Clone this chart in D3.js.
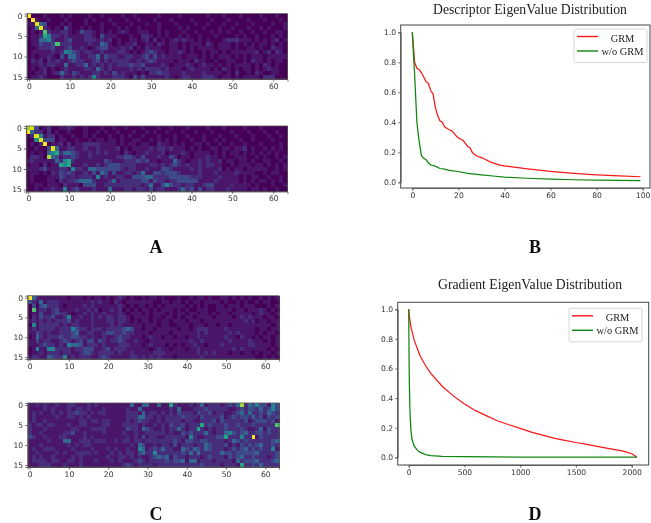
<!DOCTYPE html>
<html>
<head>
<meta charset="utf-8">
<script src="https://cdn.jsdelivr.net/npm/d3@7"></script>
<style>
  html, body { margin: 0; padding: 0; background: #fff; }
  svg { display: block; }
  .tick text { font-family: "DejaVu Sans", sans-serif; font-size: 7.6px; fill: #333; }
  .tick line { stroke: #333; stroke-width: 0.7; }
  .domain { stroke: #555; stroke-width: 0.8; }
  .serif { font-family: "Liberation Serif", serif; fill: #222; }
</style>
</head>
<body>
<div id="chart"></div>
<script>
// Heatmaps: one string per row, each character is a level from 0 to a (10)
const heatA1 = [
  "a000100010 1000010010 0001001000 0010000100 0000100010 0010000100 0100",
  "0a10010001 0000101000 1000100100 0100010000 1000010001 0000100010 0010",
  "1194300010 1000100010 0100010001 0010001000 0100100010 0100010000 1001",
  "0149210103 1001010010 0010100100 0010000101 0001000100 1000100101 0001",
  "0101721122 1013221010 1012100111 0010100010 0100010101 0010010010 0110",
  "0112652212 1111221031 1100010022 1010100101 0010001000 0101001000 1010",
  "0114452112 3111222121 2010011012 0201012121 1010100012 2211101010 1201",
  "0113223722 2111121143 1010112001 1021011010 1110210111 0101010110 1010",
  "0012223112 3112101233 1112120102 1110011010 1011110111 0100110100 2110",
  "0111112125 4321221121 1122101012 3211011210 1001011010 1111112012 0210",
  "0101121031 4421122413 2211221123 1312111101 1101010111 0101011101 1111",
  "0212021211 2322112312 1222211212 3211110111 0211001001 1001021101 0110",
  "0112122114 1122412121 2122232231 1112101112 1012110101 0111101021 0100",
  "0101201012 1111221421 2111121212 2221211101 2111101021 0101101012 1100",
  "0011201242 1321112212 1312111010 2232211121 1112111101 0200102100 1100",
  "0112100021 1212125211 1222103131 1111210122 1112221011 0101111022 2000"
];
const heatA2 = [
  "8930120011 2100100010 0100100010 0010010001 0000100010 0001000100 0000",
  "a422020100 1000100101 0010001001 0100100010 0100010000 1000100010 0100",
  "0295122010 0100101000 1001010010 0010001001 0001000100 0100010001 0010",
  "0059333011 0010010110 1101001100 1010101000 1001001010 0010010000 1000",
  "0102a01120 2011222211 1101011011 0021101010 0110100100 1001000100 0010",
  "0010039411 2211211211 1120101111 2122121110 1010011011 0112010010 1010",
  "0101045624 4321121212 1110210112 1112011121 0111101010 1101010101 0100",
  "0221084312 2321121111 1122332131 1121132011 0111211010 0111001010 0101",
  "1211111425 6211111113 2111222323 1101114210 1121211201 1011010011 0010",
  "0110201165 6111211212 3332222111 2212123212 1121221100 1011101101 0101",
  "1112311122 1522144333 3332122112 1113321111 2121111201 0110111110 0101",
  "0110102132 3211213143 1311221241 1332333211 1121112111 1211110010 1100",
  "0100011132 1212221512 1122113334 4222233333 2221111211 1101011001 0010",
  "0100011021 2234442111 2412222233 1322122333 3311112111 1101010110 1010",
  "0011011102 1110333112 2222222212 4113532212 2112331111 2111101000 1001",
  "0010112115 1231112111 4111221221 3122111242 3131221112 1111011010 0100"
];
const heatC1 = [
  "a421111111 0111010110 1012101001 0110100010 0101101001 1010101001 0101",
  "3214122211 1111112121 1021011111 1100110110 1011011110 1001010010 1100",
  "0303422210 1111212111 1112101011 0101011111 0101010011 0111011100 0101",
  "0712212311 1121121201 1212010101 1010111010 1001110011 1101101112 1010",
  "0113112322 1011212112 1112101110 1011101011 0110110101 1011111012 1101",
  "0213223112 5112112121 2212210111 1011011010 1101111011 1101212111 0110",
  "1212121222 3121112111 2212210101 1010110111 0111011111 1111121201 1011",
  "0512222212 1221112111 1212111110 1110110011 1011101101 1011111111 1101",
  "1212222122 2532212221 2222343110 1101111101 1012221111 2111111101 1011",
  "1132121122 2341122112 3322322111 1011110111 1112121111 1212111101 0110",
  "0142122232 2332212112 1123221110 1211011011 0112111111 2110211010 1101",
  "1131221123 2123133132 1223211211 0111111111 1211211111 1211112111 0101",
  "1112322121 5443122212 1112221110 1211101010 1121101112 1111112211 1101",
  "0151155222 2122333112 3122211111 1012110111 0112111111 1121211111 1010",
  "0112122212 2112332122 2212112111 1122211111 1112121211 1011011010 1101",
  "1221143225 1212221123 2111112212 1212111011 1111211111 1111111100 1010"
];
const heatC2 = [
  "1121211211 2211121211 1111114114 4114116211 1212412221 2324824353 3153",
  "1111212111 2122121112 1111121141 1111112141 1122232222 2112323324 2353",
  "1212112121 2232212122 1111122214 1221212132 2213223122 1123424223 2432",
  "1211111211 2212121111 1111122244 2212122223 2221322223 1232332423 1323",
  "1211211111 1112212212 2111121232 2112122221 2211222313 2222231233 3231",
  "2122122111 2112211112 2111222212 1121213223 1222623222 3223222322 2227",
  "2111211111 1221112222 1111132214 3211212242 1226212122 3222321124 1322",
  "2112111112 2311211112 1111211211 2222212113 2322242122 4532342233 2322",
  "3211211122 1111212111 1111121213 1221122222 1521122233 6222522a13 2222",
  "1111121114 4112221222 1121221221 2222222321 3322332222 1243232222 2234",
  "1112111111 2121221111 1111112143 1121221312 2212243222 3121323234 2232",
  "1211222111 1211112111 2121121154 1232422114 3243243222 1232342323 2251",
  "1121111212 1122221211 1212122134 2252222223 2424222224 3323333342 2223",
  "1212112111 1212111111 2112212121 1234341322 1222123222 1323422322 2123",
  "1222212211 2212111211 1212111232 1222232334 1441222122 2214233342 2234",
  "1112221112 1112111111 1111232122 2212222222 2222322221 2221622324 2222"
];
// colour-scale position of each level
const levels = [0.01, 0.06, 0.13, 0.22, 0.33, 0.46, 0.6, 0.72, 0.86, 0.95, 1];

// Eigenvalue curves
const descX = [0,1,2,3,4,5,6,7,8,9,10,11,12,13,14,15,16,17,18,19,20,22,24,25,26,27,28,30,32,34,36,38,40,45,50,60,70,80,90,99];
const descGrm = [1,.8,.76,.75,.73,.7,.67,.66,.61,.59,.5,.445,.41,.4,.37,.36,.35,.345,.33,.31,.295,.28,.24,.23,.2,.185,.175,.165,.15,.135,.125,.115,.11,.1,.09,.073,.06,.05,.043,.037];
const descNoX = [0,1,2,3,4,5,6,7,8,10,12,14,16,20,24,30,35,40,50,60,70,80,99];
const descNo = [1,.72,.4,.27,.175,.16,.15,.13,.115,.108,.092,.088,.08,.072,.06,.05,.042,.035,.027,.021,.017,.014,.011];
const gradX = [0,5,20,50,100,150,200,300,400,500,600,700,800,900,1000,1100,1200,1300,1400,1500,1600,1700,1800,1900,1950,2000,2030,2047];
const gradGrm = [1,.96,.88,.79,.69,.62,.565,.48,.415,.36,.315,.28,.245,.22,.195,.17,.15,.13,.115,.1,.087,.072,.058,.045,.036,.024,.01,0];
const gradNoX = [0,3,6,10,15,20,30,50,75,100,150,200,300,500,1000,2047];
const gradNo = [1,.7,.5,.35,.25,.18,.12,.075,.05,.035,.018,.012,.007,.004,.002,.001];
const heatTicksX = [0,10,20,30,40,50,60];
const heatTicksY = [0,5,10,15];
const lineTicksY = [0,.2,.4,.6,.8,1];

const svg = d3.select("#chart").append("svg")
  .attr("width", 651)
  .attr("height", 523);

// The reference is a soft, scaled-down scan: blur the plots, less so the titles
const defs = svg.append("defs");
[["soft", 0.6], ["softer", 0.3]].forEach(([id, sd]) => {
  defs.append("filter").attr("id", id)
    .attr("x", "-5%").attr("y", "-5%").attr("width", "110%").attr("height", "110%")
    .append("feGaussianBlur").attr("stdDeviation", sd);
});

const root = svg.append("g").attr("filter", "url(#soft)");
const labels = svg.append("g").attr("filter", "url(#softer)");

// One heatmap panel
function drawHeat(rows, left, right, top, bottom) {
  const x = d3.scaleBand().domain(d3.range(64)).range([left, right]);
  const y = d3.scaleBand().domain(d3.range(16)).range([top, bottom]);
  const xAxis = d3.scaleLinear().domain([-0.5, 63.5]).range([left, right]);
  const yAxis = d3.scaleLinear().domain([-0.5, 15.5]).range([top, bottom]);

  const g = root.append("g");
  rows.forEach((row, r) => {
    const vals = row.replace(/ /g, "").split("").map(c => levels[parseInt(c, 16)]);
    g.selectAll(null).data(vals).enter().append("rect")
      .attr("x", (d, i) => x(i))
      .attr("y", y(r))
      .attr("width", x.bandwidth() + 0.5)
      .attr("height", y.bandwidth() + 0.5)
      .attr("shape-rendering", "crispEdges")
      .attr("fill", d => d3.interpolateViridis(d));
  });
  g.append("g").attr("transform", `translate(0,${bottom})`)
    .call(d3.axisBottom(xAxis).tickValues(heatTicksX).tickSize(2.5).tickPadding(2));
  g.append("g").attr("transform", `translate(${left},0)`)
    .call(d3.axisLeft(yAxis).tickValues(heatTicksY).tickSize(2.5).tickPadding(2));
  g.append("rect").attr("x", left).attr("y", top)
    .attr("width", right - left).attr("height", bottom - top)
    .attr("fill", "none").attr("stroke", "#555").attr("stroke-width", 0.8);
}

// One eigenvalue panel
function drawLines(p) {
  const x = d3.scaleLinear().domain(p.xDomain).range(p.xRange);
  const y = d3.scaleLinear().domain([0, 1]).range(p.yRange);
  const g = root.append("g");
  g.append("g").attr("transform", `translate(0,${p.bottom})`)
    .call(d3.axisBottom(x).tickValues(p.xTicks).tickFormat(d3.format("d")).tickSize(2.5).tickPadding(2));
  g.append("g").attr("transform", `translate(${p.left},0)`)
    .call(d3.axisLeft(y).tickValues(lineTicksY).tickFormat(d3.format(".1f")).tickSize(2.5).tickPadding(2));
  g.append("rect").attr("x", p.left).attr("y", p.top)
    .attr("width", p.right - p.left).attr("height", p.bottom - p.top)
    .attr("fill", "none").attr("stroke", "#444").attr("stroke-width", 1);

  const line = d3.line().x(d => x(d[0])).y(d => y(d[1]));
  g.append("path").datum(d3.zip(p.grmX, p.grm)).attr("d", line)
    .attr("fill", "none").attr("stroke", "#f81818").attr("stroke-width", 1.25);
  g.append("path").datum(d3.zip(p.noX, p.no)).attr("d", line)
    .attr("fill", "none").attr("stroke", "#0f860f").attr("stroke-width", 1.25);

  labels.append("text").attr("class", "serif")
    .attr("x", p.titleX).attr("y", p.titleY)
    .attr("text-anchor", "middle").attr("font-size", p.titleSize)
    .text(p.title);

  // Legend
  const lg = g.append("g").attr("transform", `translate(${p.legX},${p.legY})`);
  lg.append("rect").attr("width", p.legW).attr("height", 33.5).attr("rx", 1.5)
    .attr("fill", "#fff").attr("stroke", "#ccc").attr("stroke-width", 0.8);
  [["GRM", "#f81818", 12.5, 7.5], ["w/o GRM", "#0f860f", 26, 22]].forEach(([name, c, ty, ly]) => {
    lg.append("line").attr("x1", 3).attr("x2", 24).attr("y1", ly).attr("y2", ly)
      .attr("stroke", c).attr("stroke-width", 1.4);
    labels.append("text").attr("class", "serif")
      .attr("x", p.legX + 48.5).attr("y", p.legY + ty)
      .attr("text-anchor", "middle").attr("font-size", 10.4)
      .text(name);
  });
}

drawHeat(heatA1, 27, 287.5, 13.6, 79);
drawHeat(heatA2, 26.3, 287.5, 126, 191.5);
drawHeat(heatC1, 27.7, 279, 295.7, 359);
drawHeat(heatC2, 27.7, 279, 403, 467);

drawLines({
  title: "Descriptor EigenValue Distribution", titleX: 530, titleY: 14, titleSize: 13.7,
  left: 400.7, right: 650, top: 25, bottom: 188,
  xDomain: [0, 100], xRange: [412.3, 642.7], yRange: [182.3, 32.3],
  xTicks: [0, 20, 40, 60, 80, 100],
  grmX: descX, grm: descGrm, noX: descNoX, no: descNo,
  legX: 574, legY: 29, legW: 73
});
drawLines({
  title: "Gradient EigenValue Distribution", titleX: 530, titleY: 289, titleSize: 13.7,
  left: 397.7, right: 648.7, top: 302.3, bottom: 465,
  xDomain: [0, 2000], xRange: [408.7, 631.7], yRange: [457.3, 309.3],
  xTicks: [0, 500, 1000, 1500, 2000],
  grmX: gradX, grm: gradGrm, noX: gradNoX, no: gradNo,
  legX: 569, legY: 308.3, legW: 73
});

// Panel letters
[["A", 156, 252.5], ["B", 535, 252.5], ["C", 156, 520], ["D", 535, 520]].forEach(([t, px, py]) => {
  labels.append("text").attr("class", "serif")
    .attr("x", px).attr("y", py)
    .attr("text-anchor", "middle").attr("font-size", 18).attr("font-weight", "bold")
    .style("fill", "#111")
    .text(t);
});
</script>
</body>
</html>
